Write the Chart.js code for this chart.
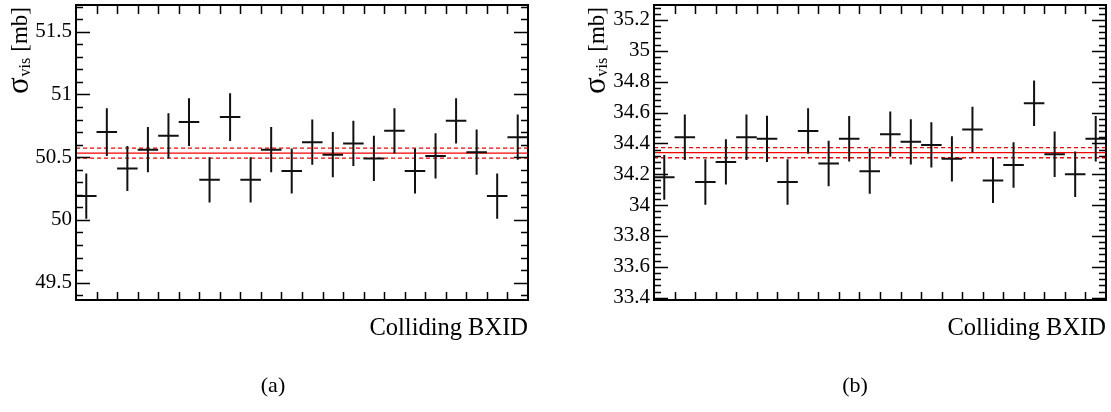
<!DOCTYPE html>
<html>
<head>
<meta charset="utf-8">
<script src="https://cdn.jsdelivr.net/npm/chart.js@4.4.1/dist/chart.umd.min.js"></script>
<style>
  body { margin: 0; background: #fff; }
  #wrap { position: relative; width: 1111px; height: 412px; }
  canvas { position: absolute; top: 0; }
</style>
</head>
<body>
<div id="wrap">
  <canvas id="chartA" width="555" height="412" style="left:0"></canvas>
  <canvas id="chartB" width="556" height="412" style="left:555px"></canvas>
</div>
<script type="text/javascript">
// one bin per colliding bunch crossing
var bxBins = [1, 2, 3, 4, 5, 6, 7, 8, 9, 10, 11, 12, 13, 14, 15, 16, 17, 18, 19, 20, 21, 22];

// (a) sigma_vis per BXID [mb]
var sigmaA = [50.19, 50.70, 50.41, 50.56, 50.67, 50.78, 50.32, 50.82, 50.32, 50.56, 50.39,
              50.62, 50.52, 50.61, 50.49, 50.71, 50.39, 50.51, 50.79, 50.54, 50.19, 50.66];
var errA   = [0.18, 0.19, 0.18, 0.18, 0.18, 0.19, 0.18, 0.19, 0.18, 0.18, 0.18,
              0.18, 0.18, 0.18, 0.18, 0.18, 0.18, 0.18, 0.18, 0.18, 0.18, 0.18];
var fitA = 50.532, fitErrA = 0.040;
var rangeA = [49.362, 51.713];

// (b)
var sigmaB = [34.18, 34.44, 34.15, 34.28, 34.44, 34.43, 34.15, 34.48, 34.27, 34.43, 34.22,
              34.46, 34.41, 34.39, 34.30, 34.49, 34.16, 34.26, 34.66, 34.33, 34.20, 34.43];
var errB   = [0.145, 0.147, 0.147, 0.147, 0.147, 0.15, 0.147, 0.147, 0.147, 0.147, 0.147,
              0.147, 0.147, 0.147, 0.147, 0.147, 0.147, 0.147, 0.148, 0.147, 0.147, 0.147];
var fitB = 34.340, fitErrB = 0.033;
var rangeB = [33.385, 35.297];

var serif = "'Liberation Serif', 'Times New Roman', serif";

// ROOT-ish frame, inward ticks, error crosses, y title, caption
var rootStyle = {
  id: 'rootStyle',
  afterDatasetsDraw(chart, args, opts) {
    var ctx = chart.ctx, a = chart.chartArea;
    var xs = chart.scales.x, ys = chart.scales.y;
    ctx.save();

    // error crosses
    var ds = chart.data.datasets[0];
    ctx.strokeStyle = '#111';
    ctx.lineWidth = 2;
    ctx.beginPath();
    ds.data.forEach(function (p, i) {
      var px = xs.getPixelForValue(p.x), py = ys.getPixelForValue(p.y);
      var x0 = Math.max(a.left, xs.getPixelForValue(p.x - 0.5));
      var x1 = Math.min(a.right, xs.getPixelForValue(p.x + 0.5));
      ctx.moveTo(x0, py); ctx.lineTo(x1, py);
      ctx.moveTo(px, ys.getPixelForValue(p.y - ds.yErr[i]));
      ctx.lineTo(px, ys.getPixelForValue(p.y + ds.yErr[i]));
    });
    ctx.stroke();

    // ticks
    ctx.strokeStyle = '#000';
    ctx.lineWidth = 1.5;
    ctx.beginPath();
    ys.ticks.forEach(function (t) {
      var py = Math.round(ys.getPixelForValue(t.value)) + 0.5;
      var len = t.label ? 14 : 7;
      ctx.moveTo(a.left, py); ctx.lineTo(a.left + len, py);
      ctx.moveTo(a.right, py); ctx.lineTo(a.right - len, py);
    });
    xs.ticks.forEach(function (t) {
      if (t.value <= xs.min || t.value >= xs.max) return;
      var px = Math.round(xs.getPixelForValue(t.value)) + 0.5;
      ctx.moveTo(px, a.top); ctx.lineTo(px, a.top + 9);
      ctx.moveTo(px, a.bottom); ctx.lineTo(px, a.bottom - 8);
    });
    ctx.stroke();

    ctx.lineWidth = 2;
    ctx.strokeRect(a.left, a.top, a.right - a.left, a.bottom - a.top);

    // y title: sigma_vis [mb], rotated, aligned to the top
    ctx.fillStyle = '#000';
    ctx.translate(opts.yLabelX, a.top + 2);
    ctx.rotate(-Math.PI / 2);
    ctx.textAlign = 'right';
    ctx.textBaseline = 'middle';
    var x = 0;
    ctx.font = '23px ' + serif;
    ctx.fillText('[mb]', x, 0);
    x -= ctx.measureText('[mb]').width + 6;
    ctx.font = '16px ' + serif;
    ctx.fillText('vis', x, 5);
    x -= ctx.measureText('vis').width + 1;
    ctx.font = '31px ' + serif;
    ctx.fillText('σ', x, -1);
    ctx.restore();

    ctx.save();
    ctx.fillStyle = '#000';
    ctx.font = '22px ' + serif;
    ctx.textAlign = 'center';
    ctx.textBaseline = 'middle';
    ctx.fillText(opts.caption, opts.captionX, 386);
    ctx.restore();
  }
};

function noPad(s) {
  s.paddingTop = 0; s.paddingBottom = 0; s.paddingLeft = 0; s.paddingRight = 0;
}

function makeConfig(vals, errs, fit, fitErr, range, majorStep, minorStep, yWidth, padRight, extra) {
  var pts = bxBins.map(function (b, i) { return { x: b - 0.5, y: vals[i] }; });
  var lo = bxBins[0] - 1, hi = bxBins[bxBins.length - 1];
  var hline = function (v, dash) {
    return {
      data: [{ x: lo, y: v }, { x: hi, y: v }],
      showLine: true, borderColor: 'rgb(255,0,0)', borderWidth: 1.3,
      borderDash: dash, pointRadius: 0
    };
  };
  return {
    type: 'scatter',
    data: {
      datasets: [
        { data: pts, yErr: errs, pointRadius: 0, showLine: false },
        hline(fit, []),
        hline(fit + fitErr, [4, 3]),
        hline(fit - fitErr, [4, 3])
      ]
    },
    options: {
      responsive: false,
      animation: false,
      layout: { padding: { left: 0, right: padRight, top: 5, bottom: 0 } },
      plugins: {
        legend: { display: false },
        tooltip: { enabled: false },
        rootStyle: extra
      },
      scales: {
        x: {
          type: 'linear', min: lo, max: hi,
          grid: { display: false, drawTicks: false },
          border: { display: false },
          ticks: { display: false, stepSize: 1 },
          title: {
            display: true, text: 'Colliding BXID', align: 'end', color: '#000',
            font: { family: serif, size: 24.5 }, padding: { top: 0, bottom: 69 }
          },
          afterFit: function (s) { s.height = 112; noPad(s); }
        },
        y: {
          min: range[0], max: range[1],
          grid: { display: false, drawTicks: false },
          border: { display: false },
          ticks: {
            stepSize: minorStep, includeBounds: false, autoSkip: false, padding: 4,
            color: '#000', font: { family: serif, size: 21 },
            callback: function (v) {
              var r = v / majorStep;
              return Math.abs(r - Math.round(r)) < 1e-6 ? String(Number(v.toFixed(1))) : '';
            }
          },
          afterFit: function (s) { s.width = yWidth; noPad(s); }
        }
      }
    },
    plugins: [rootStyle]
  };
}

var chartA = new Chart(document.getElementById('chartA'),
  makeConfig(sigmaA, errA, fitA, fitErrA, rangeA, 0.5, 0.1, 76, 27,
    { yLabelX: 21, caption: '(a)', captionX: 273 }));

var chartB = new Chart(document.getElementById('chartB'),
  makeConfig(sigmaB, errB, fitB, fitErrB, rangeB, 0.2, 0.04, 99, 5,
    { yLabelX: 43, caption: '(b)', captionX: 300 }));
</script>
</body>
</html>
